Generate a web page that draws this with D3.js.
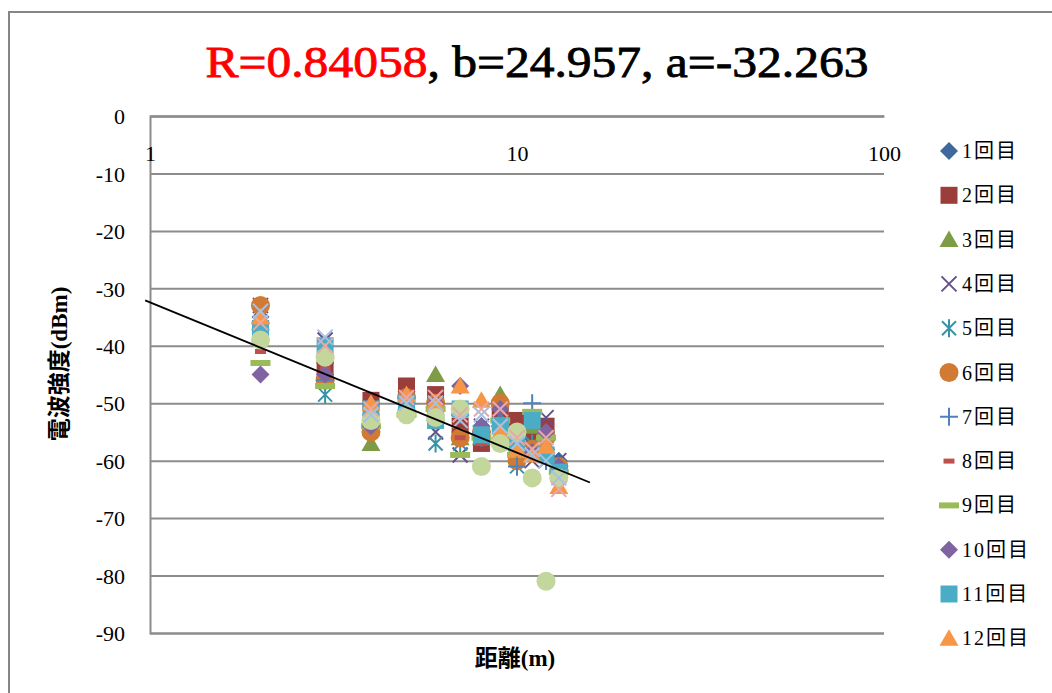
<!DOCTYPE html>
<html>
<head>
<meta charset="utf-8">
<script src="https://cdn.jsdelivr.net/npm/d3@7"></script>
<style>
  body { margin: 0; background: #fff; }
  svg { display: block; }
  .tick text { font-family: "Liberation Serif", "DejaVu Serif", serif; font-size: 22px; fill: #000; }
</style>
</head>
<body>
<script>
// distances (m) and the 15 measurement runs (dBm)
var distances = [2, 3, 4, 5, 6, 7, 8, 9, 10, 11, 12, 13];

var run1  = [-35, -43, -52, -48, -52, -55, -54, -53, -56, -57, -58, -60];
var run2  = [-37, -44, -49.5, -47, -48.5, -54, -57, -51, -53, -55, -54, -62];
var run3  = [-36, -45, -57, -50, -45, -56, -56, -48.5, -57, -54, -59, -61];
var run4  = [-33, -39, -54, -50, -55, -59, -54, -56, -58, -60, -52.5, -60];
var run5  = [-37, -48.5, -51, -50, -57, -57, -56, -52, -61, -57, -60, -62];
var run6  = [-33, -46, -55, -49, -50, -56, -55, -50, -60, -58, -56, -61];
var run7  = [-36, -46, -53, -50, -53, -52, -55, -54, -61, -50, -60, -63];
var run8  = [-41, -44, -51, -49, -52, -56, -57, -54, -58, -59, -58, -63];
var run9  = [-43, -47, -54, -52, -51, -59, -56, -53, -59, -51.5, -56, -62];
var run10 = [-45, -45, -54, -51, -50, -47, -54, -51, -58, -58.5, -55, -61];
var run11 = [-37, -40, -51, -50, -53, -51, -55.5, -54, -57, -53, -59, -62];
var run12 = [-35, -41, -50, -48.5, -50, -47, -49.5, -55, -58, -59, -57.5, -64.5];
var run13 = [-39, -42, -53, -52, -52.5, -51, -61, -57, -55, -63, -81, -63];
var run14 = [-36, -40, -51, -49, -49, -52, -51, -51, -56, -58, -56, -65];
var run15 = [-34, -38.5, -52, -50, -50, -53, -52, -54, -57, -59, -60, -63];

var runNames = ["1回目", "2回目", "3回目", "4回目", "5回目", "6回目", "7回目", "8回目",
                "9回目", "10回目", "11回目", "12回目", "13回目", "14回目", "15回目"];
var runValues = [run1, run2, run3, run4, run5, run6, run7, run8, run9, run10, run11, run12, run13, run14, run15];
var runColors = ["#3f689c", "#9b3d3b", "#7e9b45", "#65508a", "#3594a8", "#d07a33",
                 "#4f81bd", "#c0504d", "#9bbb59", "#8064a2", "#4bacc6", "#f79646",
                 "#c3d69b", "#e6a9a7", "#aac0e0"];
var runShapes = ["diamond", "square", "triangle", "x", "star", "circle",
                 "plus", "shortdash", "longdash", "diamond", "square", "triangle",
                 "circle", "x", "x"];

var xTicks = [1, 10, 100];
var yTicks = [0, -10, -20, -30, -40, -50, -60, -70, -80, -90];

// trend line as drawn (distance, dBm)
var trendX = [0.97, 15.8];
var trendY = [-32.1, -63.8];

var titleRed = "R=0.84058";
var titleBlack = ", b=24.957, a=-32.263";

const WIDTH = 1052;
const HEIGHT = 693;
const LEFT = 150, RIGHT = 884, TOP = 116, BOTTOM = 633;

var xScale = d3.scaleLog().domain([1, 100]).range([LEFT, RIGHT]);
var yScale = d3.scaleLinear().domain([-90, 0]).range([BOTTOM, TOP]);

var markerPath = function(shape) {
  switch (shape) {
    case "diamond":  return "M0,-9L9,0L0,9L-9,0Z";
    case "square":   return "M-8.5,-8.5H8.5V8.5H-8.5Z";
    case "triangle": return "M0,-9L9.5,7.5L-9.5,7.5Z";
    case "circle":   return "M9.5,0A9.5,9.5 0 1,1 -9.5,0A9.5,9.5 0 1,1 9.5,0Z";
    case "x":        return "M-7.5,-7.5L7.5,7.5M7.5,-7.5L-7.5,7.5";
    case "star":     return "M-7,-7L7,7M7,-7L-7,7M0,-9V9";
    case "plus":     return "M-9,0H9M0,-9V9";
    case "shortdash":return "M-5.5,-2.5H5.5V2.5H-5.5Z";
    case "longdash": return "M-10,-3H10V3H-10Z";
  }
};
var isStroke = function(shape) {
  return shape == "x" || shape == "star" || shape == "plus";
};

var drawMarker = function(g, shape, color) {
  var p = g.append("path").attr("d", markerPath(shape));
  if (isStroke(shape)) {
    p.attr("fill", "none").attr("stroke", color).attr("stroke-width", 2);
  } else {
    p.attr("fill", color);
  }
  return p;
};

var svg = d3.select("body").append("svg")
  .attr("width", WIDTH).attr("height", HEIGHT);

// chart frame
svg.append("rect")
  .attr("x", 9).attr("y", 12).attr("width", 1060).attr("height", 700)
  .attr("fill", "none").attr("stroke", "#868686").attr("stroke-width", 2);

// y axis with gridlines
var yAxis = d3.axisLeft(yScale).tickValues(yTicks)
  .tickSize(-(RIGHT - LEFT)).tickPadding(25)
  .tickFormat(function(d) { return String(d); });
var gy = svg.append("g").attr("transform", "translate(" + LEFT + ",0)").call(yAxis);
gy.select(".domain").attr("stroke", "#8c8c8c").attr("stroke-width", 2);
gy.selectAll(".tick line").attr("stroke", "#8c8c8c").attr("stroke-width", 2);
gy.selectAll(".tick text").attr("dy", "0.35em");

// x axis (log) across the top at 0 dBm
var xAxis = d3.axisBottom(xScale).tickValues(xTicks).tickSize(0).tickPadding(29)
  .tickFormat(function(d) { return String(d); });
var gx = svg.append("g").attr("transform", "translate(0," + TOP + ")").call(xAxis);
gx.select(".domain").attr("stroke", "#8c8c8c").attr("stroke-width", 2);

// series markers
runValues.forEach(function(vals, i) {
  var g = svg.append("g").attr("class", "run" + (i + 1));
  vals.forEach(function(v, j) {
    var m = g.append("g")
      .attr("transform", "translate(" + xScale(distances[j]) + "," + yScale(v) + ")");
    drawMarker(m, runShapes[i], runColors[i]);
  });
});

// trend line
var line = d3.line()
  .x(function(d) { return xScale(d[0]); })
  .y(function(d) { return yScale(d[1]); });
svg.append("path")
  .attr("d", line(d3.zip(trendX, trendY)))
  .attr("fill", "none").attr("stroke", "#000").attr("stroke-width", 1.8);

// title
var title = svg.append("text")
  .attr("x", 537).attr("y", 77)
  .attr("text-anchor", "middle")
  .attr("font-family", "'Liberation Serif', 'DejaVu Serif', serif")
  .attr("font-size", 44)
  .attr("stroke-width", 0.8)
  .attr("textLength", 663).attr("lengthAdjust", "spacingAndGlyphs");
title.append("tspan").attr("fill", "#ff0000").attr("stroke", "#ff0000").text(titleRed);
title.append("tspan").attr("fill", "#000").attr("stroke", "#000").text(titleBlack);

// axis titles
svg.append("text")
  .attr("transform", "translate(67,364) rotate(-90)")
  .attr("text-anchor", "middle")
  .attr("font-family", "'Liberation Serif', 'Noto Sans CJK JP', serif")
  .attr("font-weight", "bold").attr("font-size", 23)
  .text("電波強度(dBm)");

svg.append("text")
  .attr("x", 515).attr("y", 666)
  .attr("text-anchor", "middle")
  .attr("font-family", "'Liberation Serif', 'Noto Sans CJK JP', serif")
  .attr("font-weight", "bold").attr("font-size", 23)
  .text("距離(m)");

// legend (first 12 runs visible)
var legend = svg.append("g");
for (var i = 0; i < 12; i++) {
  var row = legend.append("g").attr("transform", "translate(949," + (151 + i * 44.3) + ")");
  drawMarker(row, runShapes[i], runColors[i]);
  row.append("text")
    .attr("x", 13).attr("y", 7)
    .attr("font-family", "'Liberation Serif', 'Noto Sans CJK JP', serif")
    .attr("font-size", 20).attr("letter-spacing", 2)
    .text(runNames[i]);
}
</script>
</body>
</html>
